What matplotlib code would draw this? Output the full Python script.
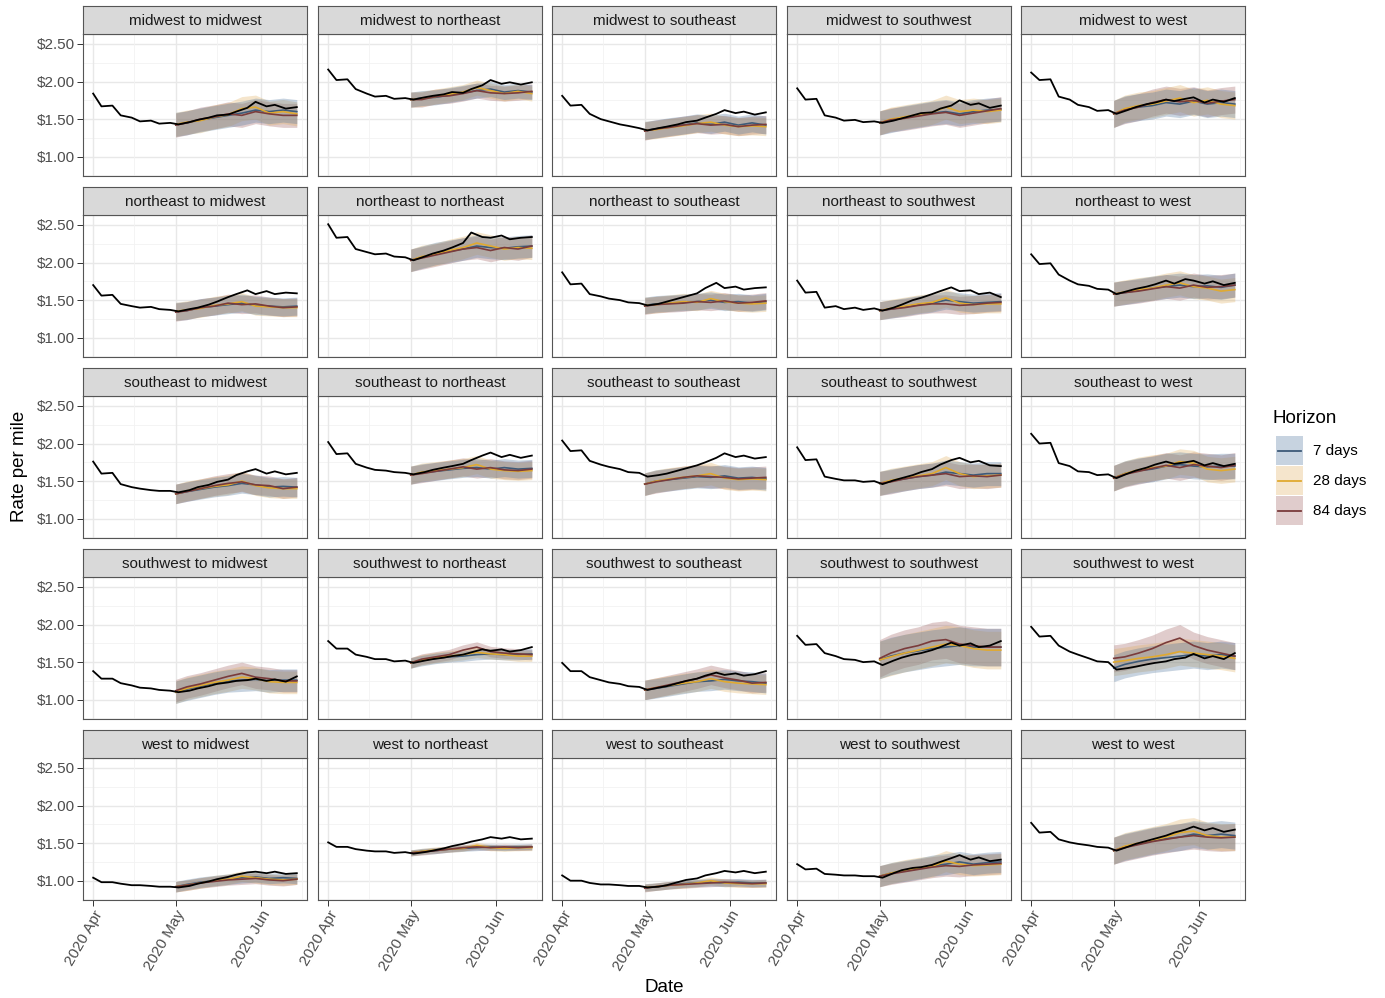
import numpy as np
import pandas as pd
import matplotlib
matplotlib.use("Agg")
import matplotlib.pyplot as plt
from matplotlib.patches import Rectangle

plt.rcParams['font.family'] = ['Liberation Sans', 'DejaVu Sans']

# regions (facets = origin x destination)
regions = ['midwest', 'northeast', 'southeast', 'southwest', 'west']

# dates of the observed series (twice a week) and of the forecast points
actual_dates = pd.to_datetime([
    '2020-04-01', '2020-04-04', '2020-04-08', '2020-04-11', '2020-04-15', '2020-04-18',
    '2020-04-22', '2020-04-25', '2020-04-29', '2020-05-02', '2020-05-06', '2020-05-09',
    '2020-05-13', '2020-05-16', '2020-05-20', '2020-05-23', '2020-05-27', '2020-05-30',
    '2020-06-03', '2020-06-06', '2020-06-10', '2020-06-14'])
fc_dates = pd.to_datetime([
    '2020-05-01', '2020-05-05', '2020-05-10', '2020-05-15', '2020-05-20', '2020-05-25',
    '2020-05-30', '2020-06-04', '2020-06-09', '2020-06-14'])

# observed rate per mile, one row per facet (row-major order)
actual = [
    [1.84, 1.67, 1.68, 1.55, 1.52, 1.47, 1.48, 1.44, 1.45, 1.43, 1.46, 1.49, 1.52, 1.55, 1.56, 1.60, 1.65, 1.73, 1.67, 1.69, 1.64, 1.66],
    [2.16, 2.02, 2.03, 1.90, 1.84, 1.80, 1.81, 1.77, 1.78, 1.76, 1.79, 1.81, 1.83, 1.86, 1.85, 1.90, 1.95, 2.02, 1.97, 1.99, 1.96, 1.99],
    [1.81, 1.68, 1.69, 1.57, 1.50, 1.47, 1.43, 1.41, 1.38, 1.35, 1.38, 1.40, 1.43, 1.46, 1.48, 1.52, 1.57, 1.62, 1.58, 1.60, 1.56, 1.59],
    [1.91, 1.76, 1.77, 1.55, 1.52, 1.48, 1.49, 1.46, 1.47, 1.45, 1.48, 1.51, 1.55, 1.58, 1.59, 1.64, 1.68, 1.75, 1.69, 1.71, 1.65, 1.68],
    [2.12, 2.02, 2.03, 1.80, 1.76, 1.69, 1.66, 1.61, 1.62, 1.57, 1.62, 1.66, 1.70, 1.72, 1.76, 1.74, 1.77, 1.79, 1.72, 1.76, 1.73, 1.78],
    [1.70, 1.56, 1.57, 1.45, 1.42, 1.40, 1.41, 1.38, 1.37, 1.35, 1.38, 1.40, 1.44, 1.48, 1.54, 1.58, 1.63, 1.58, 1.62, 1.58, 1.60, 1.59],
    [2.51, 2.33, 2.34, 2.18, 2.14, 2.11, 2.12, 2.08, 2.07, 2.03, 2.08, 2.12, 2.16, 2.20, 2.26, 2.40, 2.34, 2.33, 2.36, 2.31, 2.33, 2.34],
    [1.87, 1.71, 1.72, 1.58, 1.55, 1.52, 1.50, 1.47, 1.46, 1.43, 1.45, 1.48, 1.52, 1.55, 1.59, 1.66, 1.73, 1.66, 1.68, 1.64, 1.66, 1.67],
    [1.76, 1.60, 1.61, 1.40, 1.42, 1.38, 1.40, 1.37, 1.39, 1.36, 1.40, 1.44, 1.50, 1.53, 1.58, 1.62, 1.67, 1.62, 1.63, 1.58, 1.60, 1.54],
    [2.11, 1.98, 1.99, 1.84, 1.76, 1.71, 1.69, 1.65, 1.64, 1.58, 1.62, 1.65, 1.68, 1.71, 1.76, 1.72, 1.78, 1.76, 1.72, 1.75, 1.70, 1.73],
    [1.76, 1.60, 1.61, 1.46, 1.42, 1.40, 1.38, 1.37, 1.37, 1.35, 1.38, 1.42, 1.45, 1.49, 1.52, 1.58, 1.63, 1.66, 1.60, 1.63, 1.59, 1.61],
    [2.02, 1.86, 1.87, 1.73, 1.68, 1.65, 1.64, 1.62, 1.61, 1.59, 1.62, 1.65, 1.68, 1.70, 1.73, 1.78, 1.84, 1.88, 1.82, 1.85, 1.81, 1.84],
    [2.04, 1.90, 1.91, 1.77, 1.72, 1.69, 1.66, 1.62, 1.61, 1.56, 1.58, 1.60, 1.64, 1.67, 1.71, 1.75, 1.81, 1.87, 1.82, 1.84, 1.80, 1.82],
    [1.95, 1.78, 1.79, 1.56, 1.53, 1.51, 1.51, 1.49, 1.50, 1.46, 1.51, 1.54, 1.58, 1.62, 1.66, 1.72, 1.78, 1.81, 1.75, 1.77, 1.71, 1.70],
    [2.13, 2.00, 2.01, 1.74, 1.70, 1.63, 1.62, 1.58, 1.59, 1.54, 1.60, 1.64, 1.68, 1.72, 1.76, 1.73, 1.75, 1.77, 1.71, 1.74, 1.70, 1.73],
    [1.38, 1.28, 1.28, 1.22, 1.19, 1.16, 1.15, 1.13, 1.12, 1.10, 1.12, 1.15, 1.18, 1.21, 1.23, 1.25, 1.26, 1.28, 1.25, 1.27, 1.24, 1.31],
    [1.78, 1.68, 1.68, 1.60, 1.57, 1.54, 1.54, 1.51, 1.52, 1.49, 1.52, 1.54, 1.56, 1.58, 1.60, 1.63, 1.67, 1.65, 1.67, 1.64, 1.66, 1.70],
    [1.49, 1.38, 1.38, 1.30, 1.26, 1.23, 1.21, 1.18, 1.17, 1.13, 1.16, 1.18, 1.22, 1.25, 1.28, 1.32, 1.36, 1.33, 1.35, 1.32, 1.34, 1.38],
    [1.85, 1.73, 1.74, 1.62, 1.58, 1.54, 1.53, 1.50, 1.51, 1.46, 1.52, 1.56, 1.60, 1.62, 1.66, 1.70, 1.76, 1.72, 1.75, 1.70, 1.72, 1.78],
    [1.97, 1.84, 1.85, 1.72, 1.64, 1.60, 1.55, 1.51, 1.50, 1.40, 1.42, 1.44, 1.47, 1.49, 1.51, 1.54, 1.56, 1.61, 1.55, 1.58, 1.54, 1.62],
    [1.04, 0.98, 0.98, 0.96, 0.94, 0.94, 0.93, 0.92, 0.92, 0.91, 0.93, 0.96, 0.99, 1.02, 1.05, 1.08, 1.11, 1.12, 1.10, 1.12, 1.09, 1.10],
    [1.51, 1.45, 1.45, 1.42, 1.40, 1.39, 1.39, 1.37, 1.38, 1.36, 1.38, 1.40, 1.43, 1.46, 1.49, 1.52, 1.55, 1.58, 1.56, 1.58, 1.55, 1.56],
    [1.07, 1.00, 1.00, 0.97, 0.95, 0.95, 0.94, 0.93, 0.93, 0.91, 0.92, 0.94, 0.98, 1.01, 1.03, 1.07, 1.10, 1.13, 1.11, 1.13, 1.10, 1.12],
    [1.22, 1.15, 1.16, 1.09, 1.08, 1.07, 1.07, 1.06, 1.06, 1.04, 1.10, 1.14, 1.17, 1.18, 1.21, 1.25, 1.30, 1.34, 1.28, 1.31, 1.26, 1.28],
    [1.77, 1.64, 1.65, 1.55, 1.51, 1.49, 1.47, 1.45, 1.44, 1.40, 1.45, 1.49, 1.53, 1.56, 1.60, 1.64, 1.68, 1.72, 1.67, 1.70, 1.65, 1.68],
]

# forecasts by horizon
fc7 = [
    [1.43, 1.45, 1.49, 1.52, 1.55, 1.58, 1.62, 1.60, 1.62, 1.60],
    [1.76, 1.78, 1.79, 1.82, 1.85, 1.88, 1.90, 1.86, 1.88, 1.86],
    [1.35, 1.37, 1.40, 1.42, 1.45, 1.43, 1.46, 1.42, 1.45, 1.42],
    [1.45, 1.48, 1.52, 1.55, 1.58, 1.60, 1.57, 1.60, 1.62, 1.63],
    [1.57, 1.63, 1.66, 1.68, 1.72, 1.70, 1.74, 1.70, 1.72, 1.70],
    [1.35, 1.36, 1.40, 1.42, 1.44, 1.46, 1.43, 1.42, 1.41, 1.42],
    [2.03, 2.07, 2.12, 2.15, 2.18, 2.22, 2.20, 2.19, 2.21, 2.22],
    [1.43, 1.45, 1.46, 1.47, 1.48, 1.50, 1.47, 1.48, 1.46, 1.48],
    [1.36, 1.38, 1.41, 1.44, 1.46, 1.50, 1.48, 1.46, 1.47, 1.48],
    [1.58, 1.60, 1.63, 1.66, 1.68, 1.70, 1.68, 1.69, 1.67, 1.70],
    [1.33, 1.36, 1.39, 1.42, 1.44, 1.47, 1.45, 1.42, 1.43, 1.42],
    [1.58, 1.61, 1.63, 1.65, 1.67, 1.68, 1.66, 1.68, 1.66, 1.67],
    [1.46, 1.50, 1.52, 1.54, 1.56, 1.55, 1.57, 1.54, 1.55, 1.53],
    [1.47, 1.50, 1.53, 1.56, 1.58, 1.62, 1.60, 1.58, 1.60, 1.60],
    [1.54, 1.60, 1.64, 1.66, 1.70, 1.72, 1.70, 1.69, 1.70, 1.70],
    [1.10, 1.14, 1.18, 1.22, 1.25, 1.26, 1.27, 1.25, 1.26, 1.26],
    [1.49, 1.52, 1.55, 1.57, 1.58, 1.60, 1.61, 1.60, 1.60, 1.61],
    [1.13, 1.15, 1.18, 1.21, 1.24, 1.25, 1.27, 1.25, 1.24, 1.22],
    [1.53, 1.58, 1.62, 1.65, 1.68, 1.70, 1.72, 1.70, 1.70, 1.70],
    [1.42, 1.47, 1.51, 1.54, 1.56, 1.58, 1.60, 1.58, 1.60, 1.58],
    [0.92, 0.95, 0.98, 1.00, 1.02, 1.04, 1.05, 1.03, 1.04, 1.03],
    [1.37, 1.39, 1.40, 1.42, 1.43, 1.44, 1.45, 1.44, 1.45, 1.45],
    [0.91, 0.92, 0.94, 0.96, 0.97, 0.98, 0.97, 0.98, 0.97, 0.97],
    [1.06, 1.10, 1.13, 1.16, 1.20, 1.22, 1.25, 1.22, 1.24, 1.25],
    [1.40, 1.45, 1.49, 1.53, 1.56, 1.58, 1.62, 1.60, 1.62, 1.60],
]
fc28 = [
    [1.43, 1.46, 1.48, 1.53, 1.56, 1.64, 1.66, 1.58, 1.60, 1.57],
    [1.76, 1.77, 1.80, 1.83, 1.86, 1.92, 1.88, 1.84, 1.87, 1.84],
    [1.35, 1.36, 1.39, 1.41, 1.44, 1.46, 1.42, 1.40, 1.41, 1.40],
    [1.45, 1.50, 1.53, 1.56, 1.59, 1.66, 1.60, 1.62, 1.60, 1.62],
    [1.57, 1.64, 1.68, 1.70, 1.74, 1.78, 1.72, 1.75, 1.70, 1.68],
    [1.35, 1.37, 1.39, 1.43, 1.45, 1.48, 1.42, 1.41, 1.40, 1.40],
    [2.03, 2.08, 2.11, 2.16, 2.20, 2.26, 2.22, 2.18, 2.20, 2.19],
    [1.43, 1.44, 1.46, 1.48, 1.47, 1.52, 1.48, 1.46, 1.45, 1.46],
    [1.36, 1.39, 1.42, 1.45, 1.47, 1.53, 1.46, 1.44, 1.45, 1.45],
    [1.58, 1.61, 1.64, 1.66, 1.70, 1.73, 1.68, 1.66, 1.62, 1.64],
    [1.33, 1.37, 1.40, 1.43, 1.45, 1.50, 1.44, 1.41, 1.40, 1.40],
    [1.58, 1.62, 1.64, 1.66, 1.68, 1.72, 1.66, 1.64, 1.63, 1.64],
    [1.46, 1.50, 1.53, 1.55, 1.57, 1.60, 1.54, 1.52, 1.53, 1.52],
    [1.47, 1.51, 1.54, 1.57, 1.60, 1.68, 1.60, 1.56, 1.57, 1.58],
    [1.54, 1.60, 1.65, 1.68, 1.70, 1.76, 1.74, 1.66, 1.64, 1.66],
    [1.10, 1.15, 1.19, 1.23, 1.26, 1.30, 1.28, 1.24, 1.23, 1.23],
    [1.49, 1.53, 1.56, 1.58, 1.60, 1.63, 1.61, 1.60, 1.58, 1.58],
    [1.13, 1.16, 1.19, 1.22, 1.24, 1.28, 1.24, 1.22, 1.21, 1.20],
    [1.53, 1.57, 1.62, 1.66, 1.70, 1.74, 1.72, 1.68, 1.66, 1.66],
    [1.50, 1.52, 1.55, 1.57, 1.60, 1.64, 1.62, 1.60, 1.58, 1.55],
    [0.92, 0.94, 0.97, 1.00, 1.02, 1.06, 1.04, 1.02, 1.01, 1.02],
    [1.37, 1.39, 1.41, 1.42, 1.43, 1.47, 1.44, 1.43, 1.44, 1.44],
    [0.91, 0.92, 0.94, 0.95, 0.97, 1.00, 0.97, 0.96, 0.96, 0.96],
    [1.06, 1.10, 1.14, 1.17, 1.19, 1.26, 1.22, 1.20, 1.21, 1.22],
    [1.40, 1.46, 1.50, 1.54, 1.58, 1.64, 1.66, 1.60, 1.58, 1.58],
]
fc84 = [
    [1.42, 1.45, 1.50, 1.53, 1.57, 1.55, 1.60, 1.57, 1.55, 1.55],
    [1.76, 1.76, 1.80, 1.81, 1.84, 1.88, 1.85, 1.84, 1.85, 1.87],
    [1.34, 1.37, 1.39, 1.42, 1.44, 1.42, 1.43, 1.40, 1.42, 1.43],
    [1.45, 1.49, 1.51, 1.54, 1.57, 1.59, 1.55, 1.58, 1.61, 1.64],
    [1.57, 1.62, 1.66, 1.72, 1.76, 1.73, 1.75, 1.71, 1.74, 1.76],
    [1.34, 1.36, 1.40, 1.42, 1.46, 1.44, 1.45, 1.42, 1.40, 1.41],
    [2.03, 2.06, 2.10, 2.14, 2.18, 2.20, 2.16, 2.20, 2.18, 2.22],
    [1.42, 1.44, 1.45, 1.46, 1.48, 1.47, 1.49, 1.46, 1.47, 1.49],
    [1.36, 1.38, 1.40, 1.43, 1.45, 1.45, 1.43, 1.44, 1.46, 1.47],
    [1.58, 1.60, 1.62, 1.65, 1.68, 1.66, 1.70, 1.67, 1.68, 1.70],
    [1.33, 1.36, 1.40, 1.44, 1.47, 1.49, 1.45, 1.44, 1.40, 1.42],
    [1.58, 1.60, 1.63, 1.66, 1.69, 1.66, 1.68, 1.65, 1.64, 1.66],
    [1.46, 1.49, 1.52, 1.55, 1.57, 1.56, 1.55, 1.53, 1.54, 1.55],
    [1.47, 1.49, 1.53, 1.56, 1.58, 1.60, 1.56, 1.57, 1.56, 1.58],
    [1.54, 1.59, 1.63, 1.67, 1.71, 1.68, 1.72, 1.70, 1.68, 1.71],
    [1.12, 1.17, 1.21, 1.26, 1.31, 1.35, 1.30, 1.28, 1.25, 1.25],
    [1.49, 1.54, 1.57, 1.60, 1.66, 1.70, 1.64, 1.62, 1.61, 1.60],
    [1.13, 1.16, 1.20, 1.24, 1.28, 1.33, 1.29, 1.26, 1.22, 1.23],
    [1.55, 1.62, 1.68, 1.72, 1.78, 1.80, 1.74, 1.72, 1.70, 1.70],
    [1.55, 1.57, 1.62, 1.68, 1.76, 1.82, 1.72, 1.66, 1.62, 1.58],
    [0.92, 0.94, 0.97, 0.99, 1.01, 1.02, 1.03, 1.01, 1.00, 1.02],
    [1.37, 1.38, 1.40, 1.42, 1.44, 1.45, 1.44, 1.45, 1.44, 1.45],
    [0.90, 0.92, 0.94, 0.95, 0.96, 0.97, 0.98, 0.97, 0.96, 0.97],
    [1.06, 1.09, 1.12, 1.15, 1.18, 1.20, 1.19, 1.21, 1.22, 1.23],
    [1.40, 1.44, 1.48, 1.52, 1.55, 1.58, 1.60, 1.58, 1.57, 1.58],
]
# half width of the prediction band per facet
band = [0.16, 0.10, 0.12, 0.16, 0.18, 0.12, 0.15, 0.11, 0.12, 0.16,
        0.13, 0.12, 0.15, 0.16, 0.17, 0.15, 0.07, 0.13, 0.25, 0.18,
        0.07, 0.04, 0.05, 0.14, 0.18]

horizons = ['7 days', '28 days', '84 days']
line_cols = ['#3D5A78', '#E0AA30', '#7A3B3B']
fill_cols = ['#487099', '#DEAC58', '#9B5858']

W, H = 1385, 998
fig = plt.figure(figsize=(W / 100, H / 100), dpi=100)

col_left = [83, 318, 552, 787, 1021]
row_top = [34, 215, 396, 577, 758]
pw, ph, strip_h = 224, 142, 28

xmin = pd.Timestamp('2020-04-01') - pd.Timedelta(days=3.7)
xmax = pd.Timestamp('2020-06-14') + pd.Timedelta(days=3.7)
major_x = pd.to_datetime(['2020-04-01', '2020-05-01', '2020-06-01'])
minor_x = pd.to_datetime(['2020-04-16', '2020-05-16', '2020-06-16'])

for i in range(25):
    r, c = divmod(i, 5)
    x0, y0 = col_left[c], row_top[r]
    ax = fig.add_axes([x0 / W, 1 - (y0 + ph) / H, pw / W, ph / H])
    # grid
    for v in [0.75, 1.25, 1.75, 2.25]:
        ax.axhline(v, color='#F2F2F2', lw=0.6, zorder=0)
    for v in [1.0, 1.5, 2.0, 2.5]:
        ax.axhline(v, color='#E8E8E8', lw=1.0, zorder=0)
    for d in minor_x:
        ax.axvline(d, color='#F2F2F2', lw=0.6, zorder=0)
    for d in major_x:
        ax.axvline(d, color='#E8E8E8', lw=1.0, zorder=0)

    series = [np.array(fc7[i]), np.array(fc28[i]), np.array(fc84[i])]
    # bands drawn long horizon first so that the mix turns greyish
    for k in [2, 1, 0]:
        ax.fill_between(fc_dates, series[k] - band[i], series[k] + band[i],
                        color=fill_cols[k], alpha=0.3, lw=0, zorder=1)
    for k in range(3):
        ax.plot(fc_dates, series[k], color=line_cols[k], lw=1.2, zorder=2)
    ax.plot(actual_dates, actual[i], color='black', lw=1.3, zorder=3)

    ax.set_xlim(xmin, xmax)
    ax.set_ylim(0.743, 2.633)
    ax.set_yticks([1.0, 1.5, 2.0, 2.5])
    ax.set_xticks(major_x)
    for s in ax.spines.values():
        s.set_color('#555555')
        s.set_linewidth(0.8)
    ax.tick_params(colors='#333333', length=4, width=0.7, labelcolor='#4D4D4D',
                   labelsize=11, pad=2)
    if c == 0:
        ax.set_yticklabels(['$1.00', '$1.50', '$2.00', '$2.50'])
    else:
        ax.tick_params(axis='y', length=0, labelleft=False)
    if r == 4:
        ax.set_xticklabels(['2020 Apr', '2020 May', '2020 Jun'], rotation=60,
                           ha='right', va='top', rotation_mode='anchor')
    else:
        ax.tick_params(axis='x', length=0, labelbottom=False)

    # facet strip
    sax = fig.add_axes([x0 / W, 1 - y0 / H, pw / W, strip_h / H])
    sax.set_facecolor('#D9D9D9')
    sax.set_xticks([])
    sax.set_yticks([])
    for s in sax.spines.values():
        s.set_color('#555555')
        s.set_linewidth(0.8)
    sax.text(0.5, 0.45, f'{regions[r]} to {regions[c]}', ha='center', va='center',
             fontsize=11, color='#1A1A1A', transform=sax.transAxes)

fig.text(664 / W, 1 - 987 / H, 'Date', ha='center', va='center', fontsize=13.5)
fig.text(20 / W, 1 - 466 / H, 'Rate per mile', ha='center', va='center',
         rotation=90, fontsize=13.5)

# legend
lax = fig.add_axes([1265 / W, 1 - 535 / H, 120 / W, 135 / H])
lax.set_xlim(1265, 1385)
lax.set_ylim(535, 400)
lax.axis('off')
lax.text(1273, 418, 'Horizon', ha='left', va='center', fontsize=13.5)
key_top = [436, 466, 496]
for k in range(3):
    lax.add_patch(Rectangle((1276, key_top[k]), 27, 29, facecolor=fill_cols[k],
                            alpha=0.3, lw=0))
    yc = key_top[k] + 15
    lax.plot([1278, 1301], [yc, yc], color=line_cols[k], lw=1.3)
    lax.text(1313, yc, horizons[k], ha='left', va='center', fontsize=11)

fig.savefig('out.png', dpi=100)
